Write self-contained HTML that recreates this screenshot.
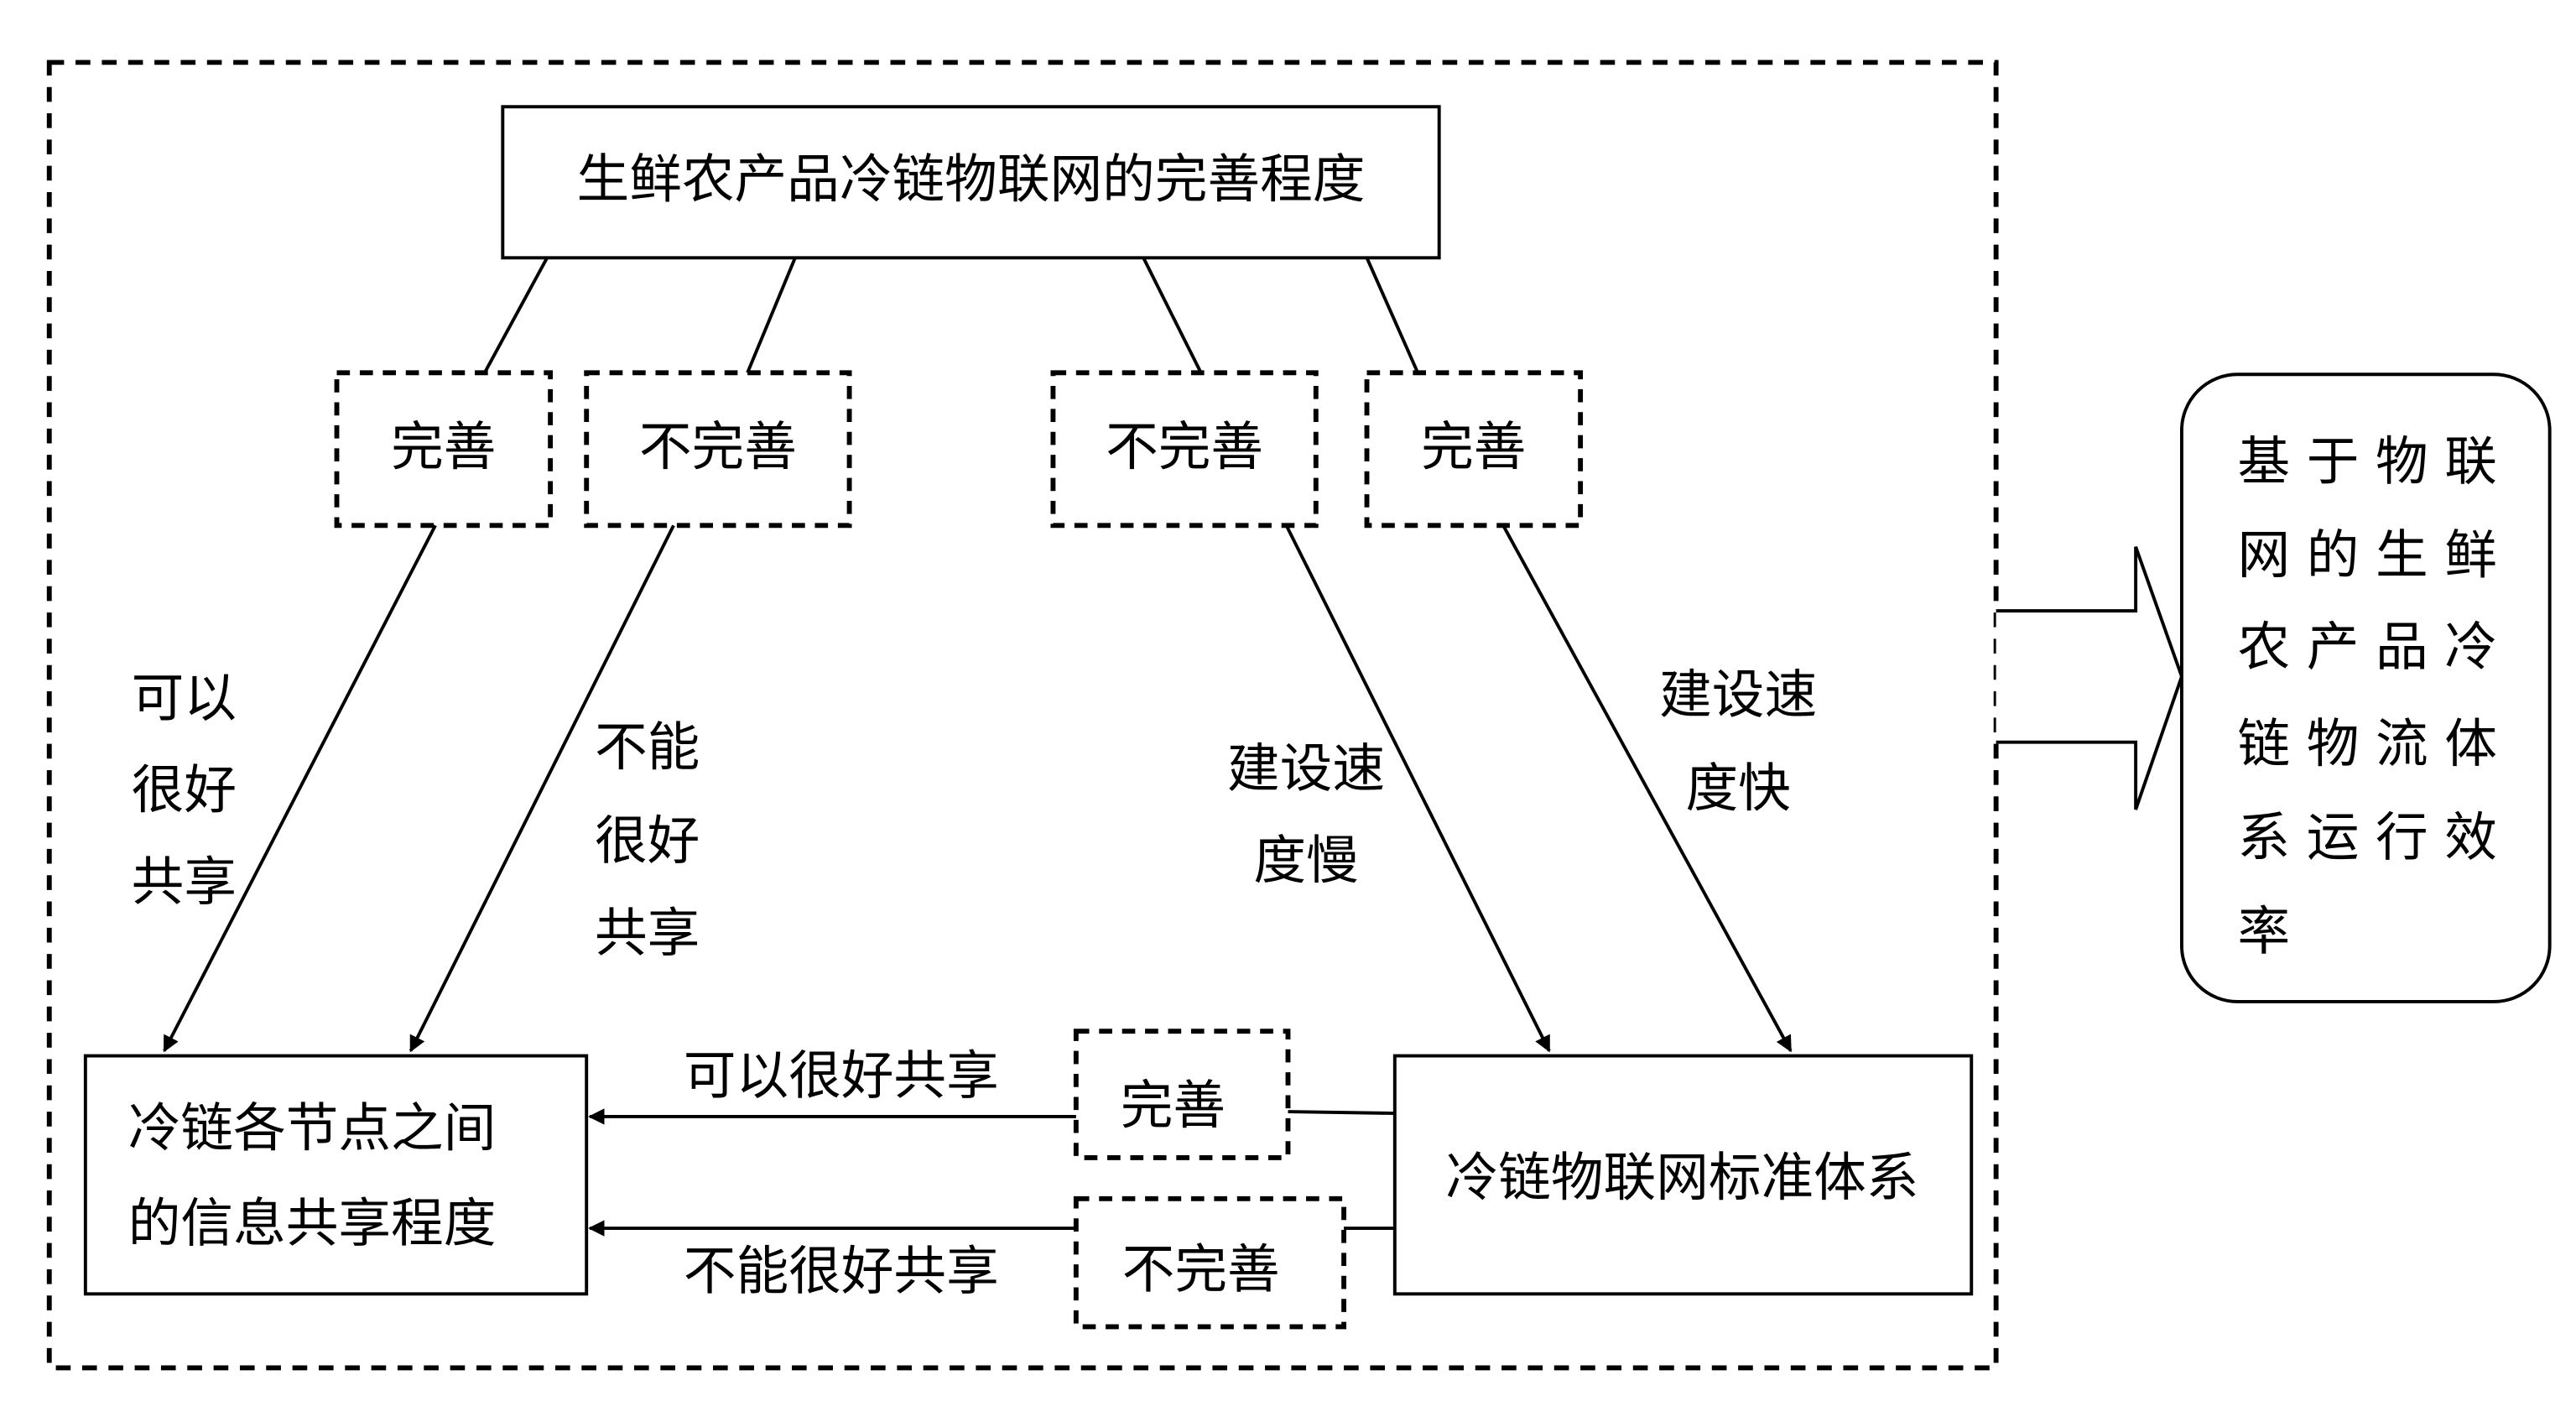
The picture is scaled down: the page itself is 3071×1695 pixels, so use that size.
<!DOCTYPE html>
<html><head><meta charset="utf-8"><style>
html,body{margin:0;padding:0;background:#fff;}
svg{display:block;}
text{font-family:"Liberation Sans","Noto Sans CJK SC","WenQuanYi Zen Hei",sans-serif;font-size:32px;fill:#000;}
</style></head><body>
<svg width="3071" height="1695" viewBox="0 0 1568 866" preserveAspectRatio="none" xmlns="http://www.w3.org/2000/svg">
<defs>
<marker id="ah" markerWidth="10" markerHeight="10" refX="9" refY="5" orient="auto" markerUnits="userSpaceOnUse" viewBox="0 0 10 10">
<path d="M0,0 L10,5 L0,10 z" fill="#000"/>
</marker>
</defs>
<g transform="scale(1)">
<rect x="30" y="38" width="1185" height="795" fill="none" stroke="#000" stroke-width="3" stroke-dasharray="9,7"/>
<rect x="306" y="65" width="570" height="92" fill="#fff" stroke="#000" stroke-width="2"/>
<text x="591" y="120" text-anchor="middle">生鲜农产品冷链物联网的完善程度</text>

<g stroke="#000" stroke-width="2">
<line x1="333" y1="157" x2="295" y2="227"/>
<line x1="484" y1="157" x2="455" y2="227"/>
<line x1="696" y1="157" x2="731" y2="227"/>
<line x1="832" y1="157" x2="863" y2="227"/>
</g>
<g fill="none" stroke="#000" stroke-width="3" stroke-dasharray="8,6">
<rect x="205" y="227" width="130" height="93"/>
<rect x="357" y="227" width="160" height="93"/>
<rect x="641" y="227" width="160" height="93"/>
<rect x="832" y="227" width="130" height="93"/>
<rect x="655" y="628" width="129" height="77"/>
<rect x="655" y="730" width="163" height="78"/>
</g>
<text x="270" y="283" text-anchor="middle">完善</text>
<text x="437" y="283" text-anchor="middle">不完善</text>
<text x="721" y="283" text-anchor="middle">不完善</text>
<text x="897" y="283" text-anchor="middle">完善</text>

<g stroke="#000" stroke-width="2" marker-end="url(#ah)" fill="none">
<line x1="265" y1="320" x2="100" y2="640"/>
<line x1="410" y1="320" x2="250" y2="640"/>
<line x1="783" y1="320" x2="943" y2="640"/>
<line x1="915" y1="320" x2="1090" y2="640"/>
<line x1="655" y1="680" x2="359" y2="680"/>
<line x1="655" y1="748" x2="359" y2="748"/>
</g>
<g stroke="#000" stroke-width="2">
<line x1="784" y1="677" x2="849" y2="678"/>
<line x1="818" y1="748" x2="849" y2="748"/>
</g>

<text x="80" y="436">可以</text>
<text x="80" y="492">很好</text>
<text x="80" y="548">共享</text>
<text x="362" y="466">不能</text>
<text x="362" y="523">很好</text>
<text x="362" y="579">共享</text>
<text x="795" y="479" text-anchor="middle">建设速</text>
<text x="795" y="535" text-anchor="middle">度慢</text>
<text x="1058" y="434" text-anchor="middle">建设速</text>
<text x="1058" y="491" text-anchor="middle">度快</text>

<rect x="52" y="643" width="305" height="145" fill="#fff" stroke="#000" stroke-width="2"/>
<text x="78" y="698">冷链各节点之间</text>
<text x="78" y="756">的信息共享程度</text>
<rect x="849" y="643" width="351" height="145" fill="#fff" stroke="#000" stroke-width="2"/>
<text x="1024" y="728" text-anchor="middle">冷链物联网标准体系</text>
<text x="714" y="684" text-anchor="middle">完善</text>
<text x="731" y="784" text-anchor="middle">不完善</text>
<text x="512" y="666" text-anchor="middle">可以很好共享</text>
<text x="512" y="785" text-anchor="middle">不能很好共享</text>

<path d="M1215,372 L1300,372 L1300,333 L1328,412 L1300,493 L1300,452 L1215,452" fill="#fff" stroke="#000" stroke-width="2"/>
<rect x="1328" y="228" width="224" height="382" rx="34" ry="34" fill="#fff" stroke="#000" stroke-width="2"/>
<g>
<text x="1362" y="292" letter-spacing="10">基于物联</text>
<text x="1362" y="349" letter-spacing="10">网的生鲜</text>
<text x="1362" y="405" letter-spacing="10">农产品冷</text>
<text x="1362" y="464" letter-spacing="10">链物流体</text>
<text x="1362" y="521" letter-spacing="10">系运行效</text>
<text x="1362" y="578" letter-spacing="10">率</text>
</g>
</g>
</svg>
</body></html>
